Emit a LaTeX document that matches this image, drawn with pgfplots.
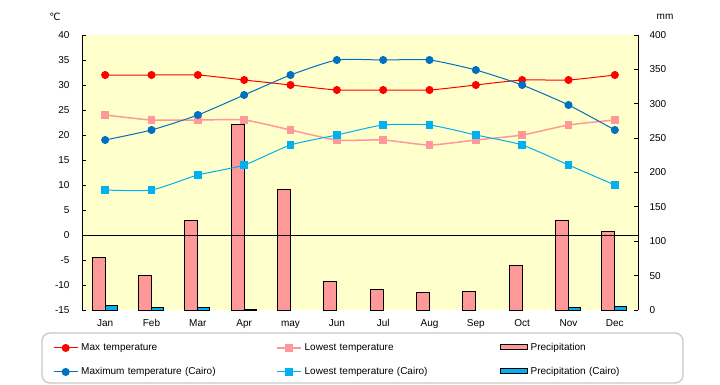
\documentclass[border=0pt]{standalone}
\usepackage{pgfplots}
\pgfplotsset{compat=1.18}
\usepackage{fontspec}
\setmainfont{Liberation Sans}
\newfontfamily\dejavu{DejaVu Sans}
\definecolor{bgy}{HTML}{FFFFCC}
\definecolor{maxr}{HTML}{FF0000}
\definecolor{lowp}{HTML}{FF9999}
\definecolor{maxc}{HTML}{0070C0}
\definecolor{lowc}{HTML}{00B0F0}
\definecolor{barp}{HTML}{FF9999}
\definecolor{barc}{HTML}{00B0F0}
\begin{document}
\begin{tikzpicture}[x=1pt,y=1pt,font=\fontsize{10}{12}\selectfont]
\useasboundingbox (0,0) rectangle (720,-385);
\pgfplotsset{
  common/.style={width=556pt,height=275pt,scale only axis,anchor=north west,at={(82pt,-35pt)},
    xmin=-0.5,xmax=11.5,/pgf/number format/assume math mode=true,
    tick style={black,line width=0.8pt},major tick length=4pt,tick align=inside,
    ticklabel style={font=\fontsize{10}{12}\selectfont},
    clip=false},
}
\begin{axis}[common,ymin=0,ymax=400,ytick={0,50,...,400},
  axis y line*=right,axis x line*=bottom,
  x axis line style={draw=none},y axis line style={-,black,line width=0.8pt},
  xtick={0,...,11},xticklabels={Jan,Feb,Mar,Apr,may,Jun,Jul,Aug,Sep,Oct,Nov,Dec},
  xtick style={draw=none},
  xticklabel style={text height=7.5pt,text depth=2pt,yshift=-5pt},
  yticklabel style={xshift=8pt},
  axis background/.style={fill=bgy}]
\addplot[ybar,bar width=13pt,bar shift=-6.5pt,fill=barp,draw=black,line width=0.9pt] coordinates {
(0,77) (1,50) (2,130) (3,270) (4,175) (5,42) (6,30) (7,26) (8,27) (9,65) (10,130) (11,114)};
\addplot[ybar,bar width=12pt,bar shift=6pt,fill=barc,draw=black,line width=0.9pt] coordinates {
(0,7) (1,3) (2,3) (3,1) (10,3) (11,5)};
\end{axis}
\begin{axis}[common,ymin=-15,ymax=40,ytick={-15,-10,...,40},
  axis y line*=left,axis x line=none,
  y axis line style={-,black,line width=0.8pt},
  yticklabel style={xshift=-9pt},
  extra y ticks={0},extra y tick labels={},
  extra y tick style={grid=major,major grid style={black,line width=0.9pt},tick style={draw=none}},
  legend image code/.code={\draw[mark repeat=2,mark phase=2,#1] plot coordinates {(0pt,0pt)(12pt,0pt)(24pt,0pt)};},
  legend columns=3,legend cell align=left,
  legend style={draw=none,fill=none,at={(axis description cs:-0.0522,-0.12)},anchor=north west,
    inner sep=0pt,row sep=14.5pt,
    nodes={text width=192pt,inner xsep=3pt,inner ysep=0pt,text height=7.5pt,text depth=2pt,align=left,font=\fontsize{10}{12}\selectfont}}]
\addplot[smooth,tension=0.35,color=maxr,line width=1pt,mark=*,mark size=3.5pt,mark options={solid,fill=maxr,draw=maxr}] coordinates {
(0,32) (1,32) (2,32) (3,31) (4,30) (5,29) (6,29) (7,29) (8,30) (9,31) (10,31) (11,32)};
\addlegendentry{Max temperature}
\addplot[smooth,tension=0.35,color=lowp,line width=1.5pt,mark=square*,mark size=3.4pt,mark options={solid,fill=lowp,draw=lowp,line width=0pt}] coordinates {
(0,24) (1,23) (2,23) (3,23) (4,21) (5,19) (6,19) (7,18) (8,19) (9,20) (10,22) (11,23)};
\addlegendentry{Lowest temperature}
\addlegendimage{legend image code/.code={\draw[fill=barp,draw=black,line width=1pt] (0pt,-2pt) rectangle (27pt,3.5pt);}}
\addlegendentry{Precipitation}
\addplot[smooth,tension=0.35,color=maxc,line width=1pt,mark=*,mark size=3.5pt,mark options={solid,fill=maxc,draw=maxc}] coordinates {
(0,19) (1,21) (2,24) (3,28) (4,32) (5,35) (6,35) (7,35) (8,33) (9,30) (10,26) (11,21)};
\addlegendentry{Maximum temperature (Cairo)}
\addplot[smooth,tension=0.35,color=lowc,line width=1pt,mark=square*,mark size=3.4pt,mark options={solid,fill=lowc,draw=lowc,line width=0pt}] coordinates {
(0,9) (1,9) (2,12) (3,14) (4,18) (5,20) (6,22) (7,22) (8,20) (9,18) (10,14) (11,10)};
\addlegendentry{Lowest temperature (Cairo)}
\addlegendimage{legend image code/.code={\draw[fill=barc,draw=black,line width=1pt] (0pt,-2pt) rectangle (27pt,3.5pt);}}
\addlegendentry{Precipitation (Cairo)}
\end{axis}
\node at (55,-17) {\dejavu ℃};
\node at (665,-17) {mm};
\draw[rounded corners=8pt,draw=black!22,line width=1.3pt] (42,-333) rectangle (683,-383);
\end{tikzpicture}
\end{document}
